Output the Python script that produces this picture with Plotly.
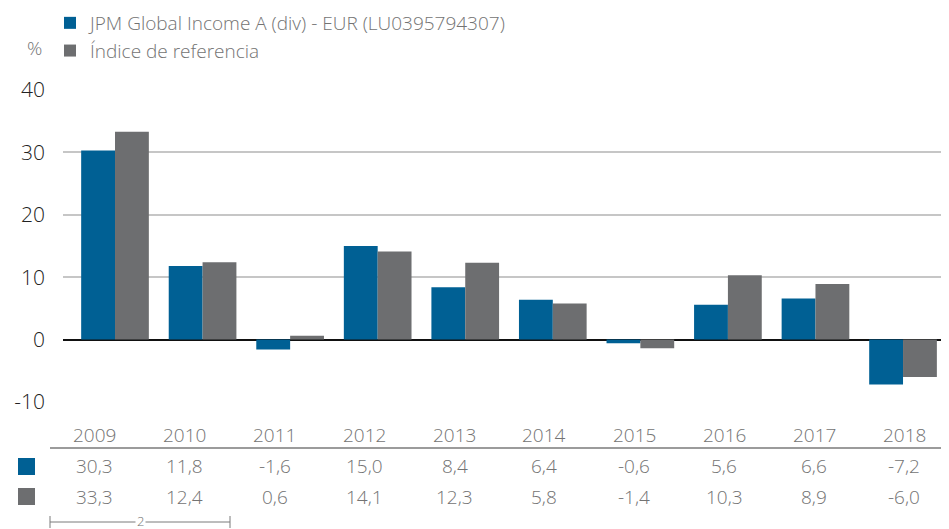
import plotly.graph_objects as go

years = ["2009", "2010", "2011", "2012", "2013", "2014", "2015", "2016", "2017", "2018"]
fund_name = "JPM Global Income A (div) - EUR (LU0395794307)"
bench_name = "Índice de referencia"
fund = [30.3, 11.8, -1.6, 15.0, 8.4, 6.4, -0.6, 5.6, 6.6, -7.2]
bench = [33.3, 12.4, 0.6, 14.1, 12.3, 5.8, -1.4, 10.3, 8.9, -6.0]
y_ticks = [-10, 0, 10, 20, 30, 40]

BLUE = "#006094"
GRAY = "#6d6e70"
TXT = "#737373"
FONT = "Open Sans"
WT = 300

OFF = 8  # page body margin offset
W, H = 949 - OFF, 529 - OFF
L, R, T, B = 63 - OFF, 0, 90 - OFF, 127
pw = W - L - R
ph = H - T - B


def px_x(p):
    return (p - OFF - L) / pw


def px_y(p):
    return (H - B - (p - OFF)) / ph


def f(size, color=TXT):
    return dict(size=size, color=color, family=FONT, weight=WT)


fig = go.Figure()
fig.add_trace(go.Bar(x=years, y=fund, name=fund_name, marker=dict(color=BLUE, line=dict(width=0))))
fig.add_trace(go.Bar(x=years, y=bench, name=bench_name, marker=dict(color=GRAY, line=dict(width=0))))

fig.update_layout(
    width=W, height=H,
    margin=dict(l=L, r=R, t=T, b=B, autoexpand=False),
    paper_bgcolor="white", plot_bgcolor="white",
    barmode="group", bargap=0.227, bargroupgap=0,
    font=f(17),
    showlegend=True,
    legend=dict(
        x=px_x(50), y=px_y(4), xanchor="left", yanchor="top",
        font=f(19),
        bgcolor="rgba(0,0,0,0)", tracegroupgap=0, itemwidth=30,
    ),
    xaxis=dict(range=[-0.594, 9.525], showticklabels=False, showgrid=False,
               zeroline=False, showline=False, ticks=""),
    yaxis=dict(range=[-10, 40], tickvals=y_ticks, ticktext=[str(v) for v in y_ticks],
               showgrid=True, gridcolor="#c6c6c6", gridwidth=1.5,
               zeroline=True, zerolinecolor="#111111", zerolinewidth=1.5,
               showline=False, ticks="", ticklabelstandoff=17,
               tickfont=f(21, "#222222")),
)

anns = []
anns.append(dict(text="%", x=px_x(34), y=px_y(48), xref="paper", yref="paper",
                 showarrow=False, xanchor="center", yanchor="middle", font=f(19)))

# table columns spread across 50..949
tl, tr = 50, 949
cw = (tr - tl) / len(years)
for i, yr in enumerate(years):
    cx = px_x(tl + cw * (i + 0.5))
    anns.append(dict(text=yr, x=cx, y=px_y(435), xref="paper", yref="paper", showarrow=False,
                     xanchor="center", yanchor="middle", font=f(19)))
    anns.append(dict(text=f"{fund[i]:.1f}".replace(".", ","), x=cx, y=px_y(466), xref="paper", yref="paper",
                     showarrow=False, xanchor="center", yanchor="middle", font=f(19)))
    anns.append(dict(text=f"{bench[i]:.1f}".replace(".", ","), x=cx, y=px_y(497), xref="paper", yref="paper",
                     showarrow=False, xanchor="center", yanchor="middle", font=f(19)))

anns.append(dict(text="2", x=px_x(140), y=px_y(521), xref="paper", yref="paper", showarrow=False,
                 xanchor="center", yanchor="middle", bgcolor="white", borderpad=1, font=f(13)))

shapes = [
    dict(type="line", xref="paper", yref="paper", x0=px_x(tl), x1=px_x(tr), y0=px_y(448), y1=px_y(448),
         line=dict(color="#7a7a7a", width=1.5)),
    dict(type="rect", xref="paper", yref="paper", x0=px_x(18), x1=px_x(35), y0=px_y(458), y1=px_y(475),
         fillcolor=BLUE, line=dict(width=0)),
    dict(type="rect", xref="paper", yref="paper", x0=px_x(18), x1=px_x(35), y0=px_y(488), y1=px_y(505),
         fillcolor=GRAY, line=dict(width=0)),
    dict(type="line", xref="paper", yref="paper", x0=px_x(50), x1=px_x(230), y0=px_y(522), y1=px_y(522),
         line=dict(color="#7a7a7a", width=1)),
    dict(type="line", xref="paper", yref="paper", x0=px_x(50), x1=px_x(50), y0=px_y(516), y1=px_y(528),
         line=dict(color="#7a7a7a", width=1)),
    dict(type="line", xref="paper", yref="paper", x0=px_x(230), x1=px_x(230), y0=px_y(516), y1=px_y(528),
         line=dict(color="#7a7a7a", width=1)),
]
fig.update_layout(annotations=anns, shapes=shapes)

fig.write_html("out.html")
